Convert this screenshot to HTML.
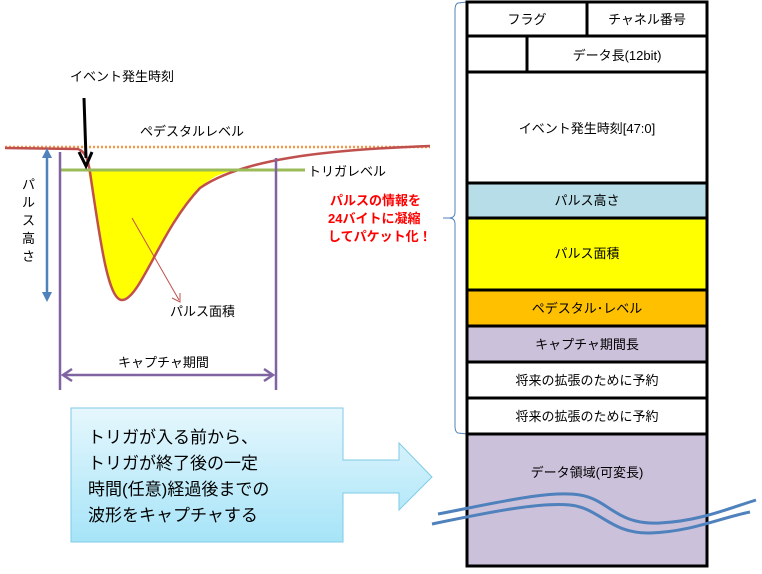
<!DOCTYPE html>
<html><head><meta charset="utf-8"><style>
body{margin:0;background:#fff;font-family:"Liberation Sans","Noto Sans CJK JP",sans-serif;}
svg text{font-family:"Liberation Sans","Noto Sans CJK JP",sans-serif;}
</style></head><body>
<svg width="762" height="569" viewBox="0 0 762 569" xmlns="http://www.w3.org/2000/svg">
<defs>
<linearGradient id="bg" x1="0" y1="0" x2="0" y2="1"><stop offset="0" stop-color="#e6f7fd"/><stop offset="1" stop-color="#a6e4f8"/></linearGradient>
</defs>
<!-- left chart -->
<path d="M88,170 C100,240 108,300 122,300 C140,300 160,230 200,188 C215,174 225,172 240,170 Z" fill="#ffff00"/>
<line x1="5" y1="147" x2="430" y2="147" stroke="#f79646" stroke-width="2.5" stroke-dasharray="2,2"/>
<path d="M5,148 L78,149 C86,152 88,160 90,172 C100,240 108,300 122,300 C140,300 160,230 200,188 C240,160 320,150 430,146" fill="none" stroke="#c0504d" stroke-width="2.5"/>
<line x1="60" y1="170" x2="305" y2="170" stroke="#9bbb59" stroke-width="3"/>
<line x1="60" y1="152" x2="60" y2="390" stroke="#8064a2" stroke-width="2.5"/>
<line x1="276" y1="158" x2="276" y2="390" stroke="#8064a2" stroke-width="2.5"/>
<line x1="64" y1="375" x2="272" y2="375" stroke="#8064a2" stroke-width="2.5"/>
<path d="M72,369 L63,375 L72,381 M264,369 L273,375 L264,381" fill="none" stroke="#8064a2" stroke-width="2.5"/>
<line x1="47" y1="152" x2="47" y2="298" stroke="#4f81bd" stroke-width="2.5"/>
<path d="M42,158 L47,148 L52,158 Z M42,292 L47,302 L52,292 Z" fill="#4f81bd"/>
<line x1="84" y1="98" x2="86" y2="158" stroke="#000" stroke-width="3"/>
<path d="M79,152 L86,166 L92,152" fill="none" stroke="#000" stroke-width="3"/>
<line x1="132" y1="218" x2="179" y2="300" stroke="#c0504d" stroke-width="1"/>
<path d="M172,298 L180,302 L180,293" fill="none" stroke="#c0504d" stroke-width="1"/>
<g font-size="13" fill="#000">
<text x="70" y="81">イベント発生時刻</text>
<text x="140" y="136">ペデスタルレベル</text>
<text x="308" y="176">トリガレベル</text>
<text x="170" y="316">パルス面積</text>
<text x="118" y="367">キャプチャ期間</text>
<text x="22" y="189">パ</text><text x="22" y="207">ル</text><text x="22" y="225">ス</text><text x="22" y="243">高</text><text x="22" y="261">さ</text>
</g>
<g font-size="13" font-weight="bold" fill="#ff0000">
<text x="330" y="205">パルスの情報を</text>
<text x="328" y="223">24バイトに凝縮</text>
<text x="328" y="241">してパケット化！</text>
</g>
<!-- bracket -->
<path d="M467,2 L458,3 Q455,4 455,10 L455,212 Q455,218 449,218 L443,218 M449,218 Q455,218 455,224 L455,426 Q455,432 458,433 L467,434" fill="none" stroke="#4f81bd" stroke-width="1"/>
<!-- table -->
<rect x="467" y="2" width="240" height="34" fill="#fff"/>
<rect x="467" y="183" width="240" height="35" fill="#b7dde8"/>
<rect x="467" y="218" width="240" height="72" fill="#ffff00"/>
<rect x="467" y="290" width="240" height="36" fill="#ffc000"/>
<rect x="467" y="326" width="240" height="36" fill="#ccc1da"/>
<rect x="467" y="434" width="240" height="132" fill="#ccc1da"/>
<g stroke="#000" stroke-width="3" fill="none">
<rect x="467" y="2" width="240" height="564"/>
<line x1="467" y1="36" x2="707" y2="36"/><line x1="467" y1="72" x2="707" y2="72"/>
<line x1="467" y1="183" x2="707" y2="183"/><line x1="467" y1="218" x2="707" y2="218"/>
<line x1="467" y1="290" x2="707" y2="290"/><line x1="467" y1="326" x2="707" y2="326"/>
<line x1="467" y1="362" x2="707" y2="362"/><line x1="467" y1="398" x2="707" y2="398"/>
<line x1="467" y1="434" x2="707" y2="434"/>
<line x1="587" y1="2" x2="587" y2="36"/><line x1="527" y1="36" x2="527" y2="72"/>
</g>
<g font-size="13" fill="#000" text-anchor="middle">
<text x="527" y="24">フラグ</text>
<text x="647" y="24">チャネル番号</text>
<text x="617" y="60">データ長(12bit)</text>
<text x="587" y="133">イベント発生時刻[47:0]</text>
<text x="587" y="205">パルス高さ</text>
<text x="587" y="258">パルス面積</text>
<text x="587" y="313">ペデスタル･レベル</text>
<text x="587" y="349">キャプチャ期間長</text>
<text x="587" y="385">将来の拡張のために予約</text>
<text x="587" y="421">将来の拡張のために予約</text>
<text x="587" y="477">データ領域(可変長)</text>
</g>
<!-- wavy lines -->
<g fill="none" stroke="#4f81bd" stroke-width="3">
<path d="M438,514 C500,502 550,490 580,495 C610,500 615,525 660,523 C700,521 730,508 756,500"/>
<path d="M432,524 C490,512 540,502 570,505 C600,508 610,534 650,533 C690,532 720,518 750,512"/>
</g>
<!-- blue arrow -->
<path d="M71,408 L343,408 L343,460 L399,460 L399,443 L432,477 L399,510 L399,493 L343,493 L343,542 L71,542 Z" fill="url(#bg)" stroke="#7fcbe6" stroke-width="1"/>
<g font-size="17" fill="#000">
<text x="88" y="443">トリガが入る前から、</text>
<text x="88" y="469">トリガが終了後の一定</text>
<text x="88" y="495">時間(任意)経過後までの</text>
<text x="88" y="521">波形をキャプチャする</text>
</g>
</svg>
</body></html>
